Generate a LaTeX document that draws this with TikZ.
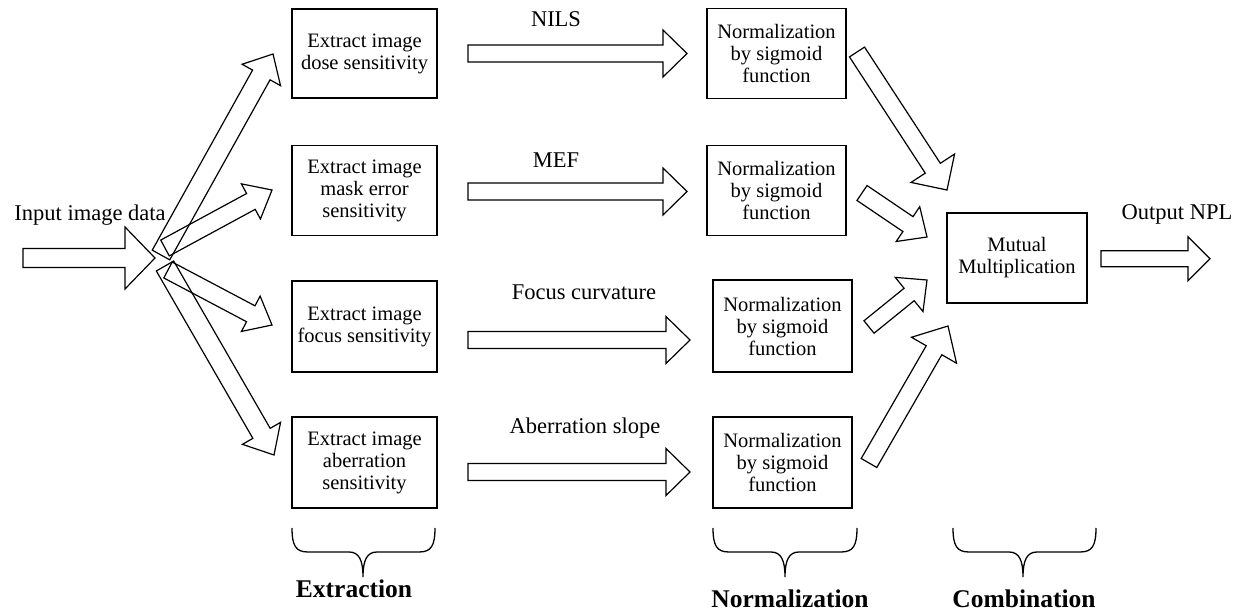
\documentclass[tikz,border=0pt]{standalone}
\usepackage{fontspec}
\setmainfont{Liberation Serif}
\usetikzlibrary{calc}
\tikzset{
  boxnode/.style={draw, line width=1.3pt, inner sep=0pt, align=center, font=\fontsize{20.5}{22}\selectfont},
  lbl/.style={inner sep=0pt, font=\fontsize{22.5}{24}\selectfont},
  grp/.style={inner sep=0pt, font=\fontsize{25.5}{27}\selectfont\bfseries},
  barrow/.style={draw, line width=1.2pt, line join=miter},
  bracestyle/.style={draw, line width=1.3pt}
}
\newcommand\blockarrow[5]{%
  \coordinate (bah) at ($(#2)!#5!(#1)$);
  \draw[barrow] ($(#1)!#3!90:(#2)$) -- ($(bah)!#3!-90:(#1)$) -- ($(bah)!#4!-90:(#1)$) -- (#2)
     -- ($(bah)!#4!90:(#1)$) -- ($(bah)!#3!90:(#1)$) -- ($(#1)!#3!-90:(#2)$) -- cycle;}
\newcommand\ubrace[3]{%
  \draw[bracestyle] (#1,528) .. controls (#1,546) and (#1+4,552) .. (#1+16,552) -- (#2-14,552)
    .. controls (#2-4,552) and (#2,560) .. (#2,577)
    .. controls (#2,560) and (#2+4,552) .. (#2+14,552) -- (#3-16,552)
    .. controls (#3-4,552) and (#3,546) .. (#3,528);}
\begin{document}
\begin{tikzpicture}[x=1pt, y=-1pt]
\useasboundingbox (0,0) rectangle (1242,612);
\fill[white] (0,0) rectangle (1242,612);

% extraction boxes
\node[boxnode, minimum width=145pt, minimum height=89pt] (e1) at (364.5,53.5) {Extract image\\dose sensitivity};
\node[boxnode, minimum width=145pt, minimum height=90pt] (e2) at (364.5,190.5) {Extract image\\mask error\\sensitivity};
\node[boxnode, minimum width=145pt, minimum height=91pt] (e3) at (364.5,326.5) {Extract image\\focus sensitivity};
\node[boxnode, minimum width=145pt, minimum height=91pt] (e4) at (364.5,462.5) {Extract image\\aberration\\sensitivity};

% normalization boxes
\node[boxnode, minimum width=139pt, minimum height=90pt] (n1) at (776.5,53.5) {Normalization\\by sigmoid\\function};
\node[boxnode, minimum width=139pt, minimum height=90pt] (n2) at (776.5,190.5) {Normalization\\by sigmoid\\function};
\node[boxnode, minimum width=139pt, minimum height=92pt] (n3) at (782.5,326) {Normalization\\by sigmoid\\function};
\node[boxnode, minimum width=139pt, minimum height=91pt] (n4) at (782.5,462.5) {Normalization\\by sigmoid\\function};

% combination box
\node[boxnode, minimum width=140pt, minimum height=90pt] (mm) at (1017,258) {Mutual\\Multiplication};

% labels
\node[lbl] (tin) at (90,215) {Input image data};
\node[lbl] (tnils) at (556,19) {NILS};
\node[lbl] (tmef) at (556,160) {MEF};
\node[lbl] (tfoc) at (584,292) {Focus curvature};
\node[lbl] (tab) at (585,428) {Aberration slope};
\node[lbl] (tout) at (1177,214) {Output NPL};
\node[grp] (gext) at (354,589) {Extraction};
\node[grp] (gnorm) at (790,599) {Normalization};
\node[grp] (gcomb) at (1024,599) {Combination};

% arrow end points
\coordinate (inS) at (23,258);   \coordinate (inT) at (155,258);
\coordinate (aS) at (161,255);   \coordinate (aT) at (273,54);
\coordinate (bS) at (165,248);   \coordinate (bT) at (272,190);
\coordinate (cS) at (168,270);   \coordinate (cT) at (272,325);
\coordinate (dS) at (165,266);   \coordinate (dT) at (274,455);
\coordinate (h1S) at (468,53.5); \coordinate (h1T) at (687,53.5);
\coordinate (h2S) at (468,191.5);\coordinate (h2T) at (687,191.5);
\coordinate (h3S) at (468,340);  \coordinate (h3T) at (690,340);
\coordinate (h4S) at (468,472);  \coordinate (h4T) at (690,472);
\coordinate (m1S) at (857,52);   \coordinate (m1T) at (947,190);
\coordinate (m2S) at (862,193);  \coordinate (m2T) at (927,237);
\coordinate (m3S) at (869,327);  \coordinate (m3T) at (927,280);
\coordinate (m4S) at (869,463);  \coordinate (m4T) at (948,326);
\coordinate (oS) at (1101,258.7);\coordinate (oT) at (1210,258.7);

% block arrows
\blockarrow{inS}{inT}{9.5pt}{31pt}{30pt}
\blockarrow{aS}{aT}{10pt}{22pt}{24pt}
\blockarrow{dS}{dT}{10pt}{22pt}{25pt}
\blockarrow{bS}{bT}{9pt}{20pt}{24pt}
\blockarrow{cS}{cT}{9pt}{20pt}{24pt}
\blockarrow{h1S}{h1T}{8.5pt}{23.5pt}{24pt}
\blockarrow{h2S}{h2T}{8.5pt}{23.5pt}{24pt}
\blockarrow{h3S}{h3T}{8.5pt}{23.5pt}{24pt}
\blockarrow{h4S}{h4T}{8.5pt}{23.5pt}{24pt}
\blockarrow{m1S}{m1T}{9pt}{26pt}{26pt}
\blockarrow{m2S}{m2T}{9pt}{21pt}{23pt}
\blockarrow{m3S}{m3T}{8pt}{22pt}{23pt}
\blockarrow{m4S}{m4T}{9pt}{26pt}{28pt}
\blockarrow{oS}{oT}{8pt}{22pt}{22pt}

% braces
\ubrace{292}{363}{435}
\ubrace{713}{785}{857}
\ubrace{953}{1023}{1096}
\end{tikzpicture}
\end{document}
